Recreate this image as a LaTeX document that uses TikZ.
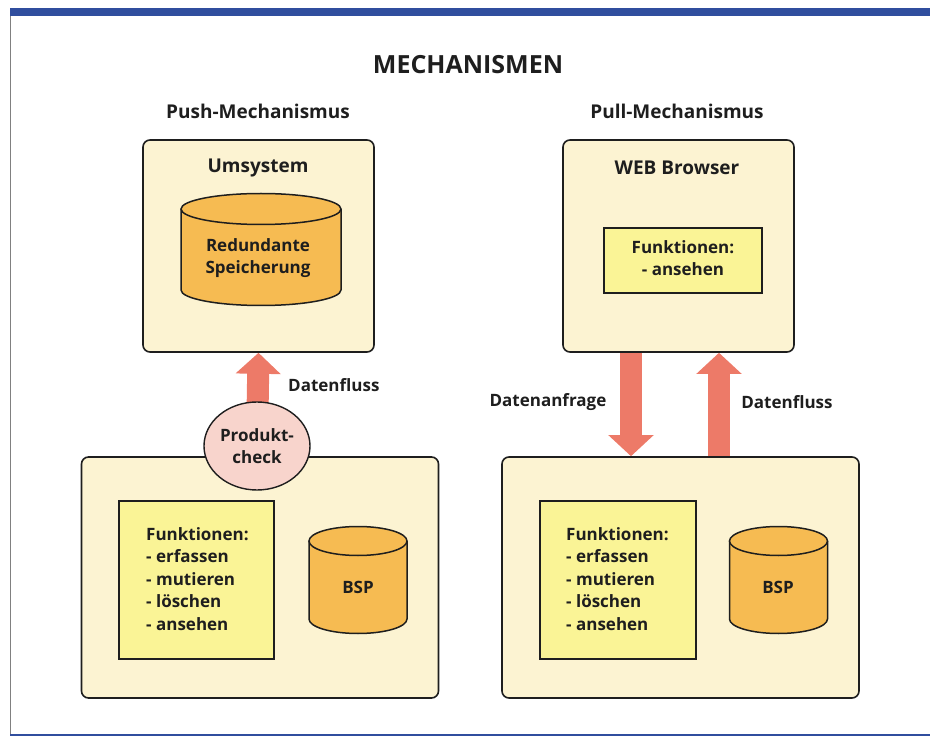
\documentclass[tikz,border=0pt]{standalone}
\usepackage{fontspec}
\setmainfont{Open Sans}
\usetikzlibrary{arrows.meta,backgrounds,shapes.geometric}

\definecolor{ink}{RGB}{30,30,30}
\definecolor{cream}{RGB}{252,243,210}
\definecolor{dbfill}{RGB}{246,187,82}
\definecolor{funcfill}{RGB}{250,244,150}
\definecolor{flowcol}{RGB}{237,122,104}
\definecolor{checkfill}{RGB}{248,212,204}
\definecolor{framecol}{RGB}{48,78,158}

\tikzset{
  txt/.style={font=\fontsize{17}{22.4}\selectfont\bfseries, text=ink, inner sep=0pt, align=center},
  head/.style={txt, font=\fontsize{19}{23}\selectfont\bfseries},
  sysbox/.style={draw=ink, line width=1.6pt, fill=cream, rounded corners=7pt, inner sep=0pt},
  funcbox/.style={draw=ink, line width=1.4pt, fill=funcfill, inner sep=0pt},
  flow/.style={flowcol, line width=22pt, -{Triangle[length=21pt,width=44pt]}},
}

\begin{document}
\begin{tikzpicture}[x=1pt, y=-1pt]
    \useasboundingbox (0,0) rectangle (930,738);

    % frame
    \fill[framecol] (10,8) rectangle (930,16);
    \draw[gray, line width=1pt] (10.5,16) -- (10.5,735);
    \draw[framecol, line width=1.2pt] (10,735) -- (930,735);

    \node[txt, font=\fontsize{25}{30}\selectfont\bfseries] (title) at (468,65) {MECHANISMEN};
    \node[head] (push) at (258,111) {Push-Mechanismus};
    \node[head] (pull) at (677,111) {Pull-Mechanismus};

    % Push-Mechanismus
    \node[sysbox, minimum width=231pt, minimum height=212pt] (ums) at (258.5,246) {};
    \node[head] (umstitle) at (258,168) {Umsystem};
    \node[sysbox, minimum width=357pt, minimum height=241pt] (bsp1) at (260,577.5) {};
    \node[funcbox, minimum width=155pt, minimum height=158pt] (func1) at (196.5,580) {};
    \node[txt, align=left, anchor=west] (func1txt) at (146,579)
        {Funktionen:\\- erfassen\\- mutieren\\- löschen\\- ansehen};
    \node[draw=ink, line width=1.4pt, fill=checkfill, ellipse, minimum width=106pt,
        minimum height=88pt, inner sep=0pt] (check) at (257,446) {};
    \node[txt] (checktxt) at (257,446) {Produkt-\\check};
    \begin{scope}[on background layer]
        \draw[flow] (check.center) -- (ums.south);
    \end{scope}
    \node[txt, anchor=west] (flow1) at (288,385) {Datenfluss};

    % Pull-Mechanismus
    \node[sysbox, minimum width=231pt, minimum height=212pt] (web) at (678.5,246) {};
    \node[head] (webtitle) at (677,168) {WEB Browser};
    \node[funcbox, minimum width=158pt, minimum height=65pt] (func3) at (683,260.5) {};
    \node[txt] (func3txt) at (683,258) {Funktionen:\\- ansehen};
    \node[sysbox, minimum width=357pt, minimum height=241pt] (bsp2) at (680.5,577.5) {};
    \node[funcbox, minimum width=156pt, minimum height=158pt] (func2) at (618,580) {};
    \node[txt, align=left, anchor=west] (func2txt) at (566,579)
        {Funktionen:\\- erfassen\\- mutieren\\- löschen\\- ansehen};
    \draw[flow] ([xshift=-47.5pt]web.south) -- ([xshift=-49.5pt]bsp2.north);
    \draw[flow] ([xshift=38.5pt]bsp2.north) -- ([xshift=40.5pt]web.south);
    \node[txt] (request) at (548,402) {Datenanfrage};
    \node[txt] (flow2) at (787,402) {Datenfluss};

    % databases
    \foreach \cx/\ty/\by/\rx/\ry in {261/209/290/80/15.5, 358/541/619/49/14.5, 778.5/541/619/49/14.5} {
        \draw[draw=ink, line width=1.5pt, fill=dbfill] (\cx-\rx,\ty) -- (\cx-\rx,\by)
            arc[start angle=180, end angle=0, x radius=\rx, y radius=\ry] -- (\cx+\rx,\ty);
        \draw[draw=ink, line width=1.5pt, fill=dbfill] (\cx,\ty) ellipse[x radius=\rx, y radius=\ry];
    }
    \node[txt] (redund) at (258,258) {Redundante\\Speicherung};
    \node[txt] (bsptxt1) at (358,587) {BSP};
    \node[txt] (bsptxt2) at (778,587) {BSP};
\end{tikzpicture}
\end{document}
